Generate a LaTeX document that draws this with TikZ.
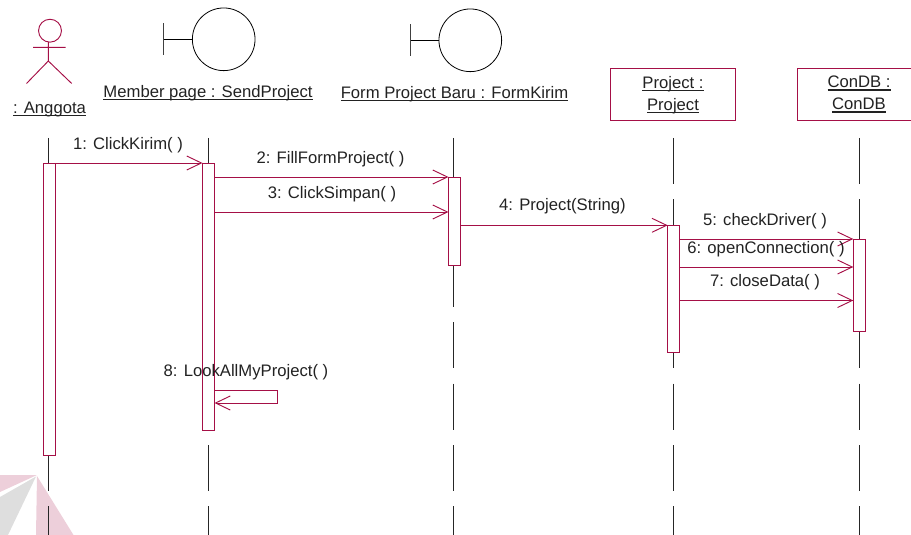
\documentclass[tikz,border=0pt]{standalone}
\usepackage{fontspec}
\setmainfont{Liberation Sans}
\usetikzlibrary{arrows.meta}
\definecolor{umlred}{HTML}{A50F46}
\definecolor{umltext}{HTML}{222222}
\newcommand{\ulname}[1]{\leavevmode\setbox0=\hbox{#1}\dp0=0pt \vtop{\box0 \kern 1.1pt \hrule height 1.1pt}}

\begin{document}
\begin{tikzpicture}[x = 0.75pt, y = -0.75pt]
	\tikzstyle {lifeline} = [black!85, line width = 0.6pt, dash pattern = on 34.5pt off 11.55pt];
	\tikzstyle {activation} = [draw = umlred, fill = white, line width = 0.7pt, inner sep = 0pt, outer sep = 0pt, minimum width = 9pt];
	\tikzstyle {classbox} = [draw = umlred, fill = white, line width = 0.7pt, inner sep = 0pt, outer sep = 0pt, minimum height = 38.5pt];
	\tikzstyle {message} = [umlred, line width = 0.7pt, -{Straight Barb[length = 11pt, width = 10.5pt, line width = 0.7pt]}];
	\tikzstyle {label} = [text = umltext, font = \fontsize{12.5pt}{16.5pt}\selectfont, inner sep = 0pt, align = center];
	\clip (0, 0) rectangle (911, 535);
	% watermark
	\fill[black!13] (36, 476.5) -- (0, 497) -- (0, 535) -- (8, 535) -- cycle;
	\fill[umlred!20] (0, 475) -- (37, 475) -- (0, 492) -- cycle;
	\fill[umlred!20] (37, 476) -- (73.5, 535) -- (36, 535) -- cycle;
	% lifelines
	\foreach \nodename/\xpos in {anggota/48.3, member/208, form/453, project/673, condb/859} {
			\coordinate (\nodename top) at (\xpos, 138);
			\coordinate (\nodename end) at (\xpos, 535);
			\draw[lifeline] (\nodename top) -- (\nodename end);
		}
	% actor
	\node[draw = umlred, line width = 0.7pt, circle, inner sep = 0pt, outer sep = 0pt, minimum size = 17.2pt] (head) at (50, 30.7) {};
	\coordinate (hip) at (48.3, 61);
	\draw[umlred, line width = 0.7pt] (head.south -| hip) -- (hip) (33, 47.3) -- (65.5, 47.3) (26.5, 83.5) -- (hip) -- (71.7, 83.5);
	% boundaries
	\foreach \nodename/\xpos/\ypos in {memberball/223.7/39.3, formball/470.3/40.3} {
			\node[draw, line width = 0.6pt, circle, inner sep = 0pt, outer sep = 0pt, minimum size = 47pt] (\nodename) at (\xpos, \ypos) {};
			\coordinate (\nodename stem) at (\xpos - 60, \ypos);
			\draw[line width = 0.6pt] (\nodename.west) -- (\nodename stem);
			\draw[black!75, line width = 0.9pt] (\xpos - 60, \ypos - 16) -- (\xpos - 60, \ypos + 16);
		}
	% classes
	\node[classbox, minimum width = 93.8pt] (projectbox) at (672.8, 94.6) {};
	\node[classbox, minimum width = 96pt] (condbbox) at (861.3, 94.6) {};
	\node[label] (projectname) at (673, 94.5) {\ulname{Project :}\\\ulname{Project}};
	\node[label] (condbname) at (859, 94.5) {\ulname{ConDB :}\\\ulname{ConDB}};
	\node[label] (anggotaname) at (49.5, 109) {\ulname{: Anggota}};
	\node[label] (membername) at (208, 92.5) {\ulname{Member page : SendProject}};
	\node[label] (formname) at (454.5, 93.5) {\ulname{Form Project Baru : FormKirim}};
	% activations
	\foreach \nodename/\xpos/\ypos/\len in {anggotabar/49.5/309.3/219.5, memberbar/208.5/296.5/200.3, formbar/454.5/221.3/66.5, projectbar/673.7/289/95.6, condbbar/859.3/285.3/69.5} {
			\node[activation, minimum height = \len pt] (\nodename) at (\xpos, \ypos) {};
		}
	% messages
	\foreach \firstnode/\secondnode/\ypos in {anggotabar/memberbar/163, memberbar/formbar/177, memberbar/formbar/212, formbar/projectbar/225.3, projectbar/condbbar/239, projectbar/condbbar/267, projectbar/condbbar/300.5} {
			\draw[message] (\firstnode.east |- 0, \ypos) -- (\secondnode.west |- 0, \ypos);
		}
	\draw[message] (memberbar.east |- 0, 390.5) -- (277, 390.5) -- (277, 403) -- (memberbar.east |- 0, 403);
	\foreach \nodename/\xpos/\ypos/\nodetext in {msga/128/145/1: ClickKirim( ), msgb/330.5/159/2: FillFormProject( ), msgc/332/194/3: ClickSimpan( ), msgd/562.5/206/4: Project(String), msge/765/221/5: checkDriver( ), msgf/766/249/6: openConnection( ), msgg/765/282/7: closeData( ), msgh/246/372/8: LookAllMyProject( )} {
			\node[label] (\nodename) at (\xpos, \ypos) {\nodetext};
		}
\end{tikzpicture}
\end{document}
